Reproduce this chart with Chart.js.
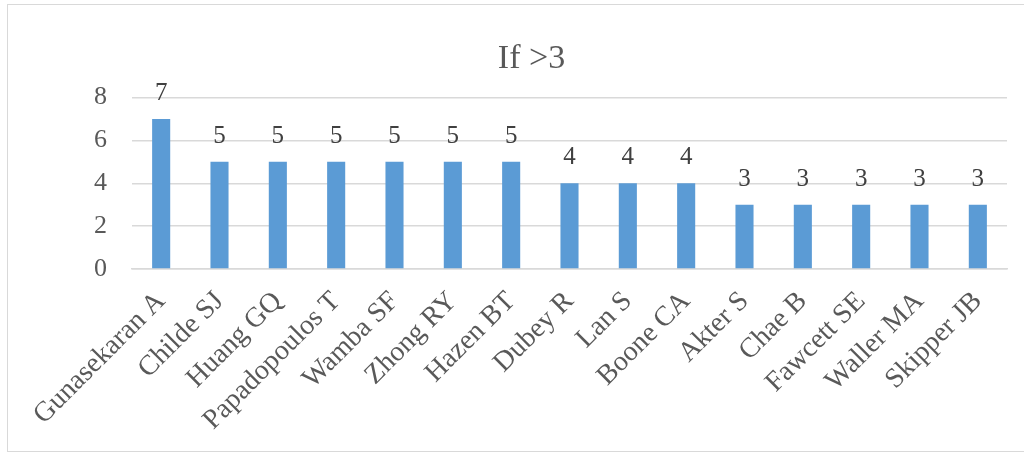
<!DOCTYPE html>
<html><head><meta charset="utf-8">
<script src="https://cdn.jsdelivr.net/npm/chart.js@4.4.1/dist/chart.umd.min.js"></script>
<style>
html,body{margin:0;padding:0;background:#fff;}
#wrap{position:relative;width:1024px;height:459px;overflow:hidden;}
#frame{position:absolute;left:7px;top:4px;width:1030px;height:448px;border:1px solid #d9d9d9;box-sizing:border-box;}
canvas{position:absolute;left:0;top:0;}
</style></head>
<body><div id="wrap"><div id="frame"></div><canvas id="c" width="1024" height="459"></canvas></div>
<script>
const categories = ["Gunasekaran A","Childe SJ","Huang GQ","Papadopoulos T","Wamba SF","Zhong RY","Hazen BT","Dubey R","Lan S","Boone CA","Akter S","Chae B","Fawcett SE","Waller MA","Skipper JB"];
const values = [7,5,5,5,5,5,5,4,4,4,3,3,3,3,3];
const yTicks = [0,2,4,6,8];
const titleText = "If >3";

const FONT = "'Liberation Serif', 'Times New Roman', serif";

const labelPlugin = {
  id:'barLabels',
  afterDatasetsDraw(chart){
    const ctx = chart.ctx;
    const meta = chart.getDatasetMeta(0);
    ctx.save();
    ctx.font = "25px " + FONT;
    ctx.fillStyle = "#404040";
    ctx.textAlign = "center";
    ctx.textBaseline = "alphabetic";
    meta.data.forEach((bar,i)=>{
      ctx.fillText(String(values[i]), bar.x, bar.y - 19);
    });
    ctx.restore();
  }
};

function build(){
new Chart(document.getElementById('c'),{
  type:'bar',
  data:{labels:categories,datasets:[{data:values,backgroundColor:'#5B9BD5',borderWidth:0,categoryPercentage:1,barPercentage:0.31}]},
  options:{
    responsive:false,animation:false,
    layout:{padding:{top:39,right:17,left:56,bottom:0}},
    plugins:{
      legend:{display:false},tooltip:{enabled:false},
      title:{display:true,text:titleText,color:'#595959',font:{family:FONT,size:34,weight:'normal',lineHeight:1.2},padding:{top:0,bottom:17.7}}
    },
    scales:{
      x:{
        grid:{display:false},
        border:{display:true,color:'#d9d9d9',width:1.5},
        ticks:{color:'#595959',font:{family:FONT,size:28},minRotation:45,maxRotation:45,autoSkip:false,padding:8},
        afterFit(a){a.height=190;}
      },
      y:{
        min:0,max:8,
        afterBuildTicks(a){a.ticks=yTicks.map(v=>({value:v}));},
        grid:{color:'#d9d9d9',lineWidth:1.5,drawTicks:false},
        border:{display:false},
        ticks:{color:'#595959',font:{family:FONT,size:26},padding:25},
        afterFit(a){a.width=76;}
      }
    }
  },
  plugins:[labelPlugin]
});
}
Promise.all([document.fonts.load("25px 'Liberation Serif'"),document.fonts.load("28px 'Liberation Serif'")]).then(build,build);
</script></body></html>
